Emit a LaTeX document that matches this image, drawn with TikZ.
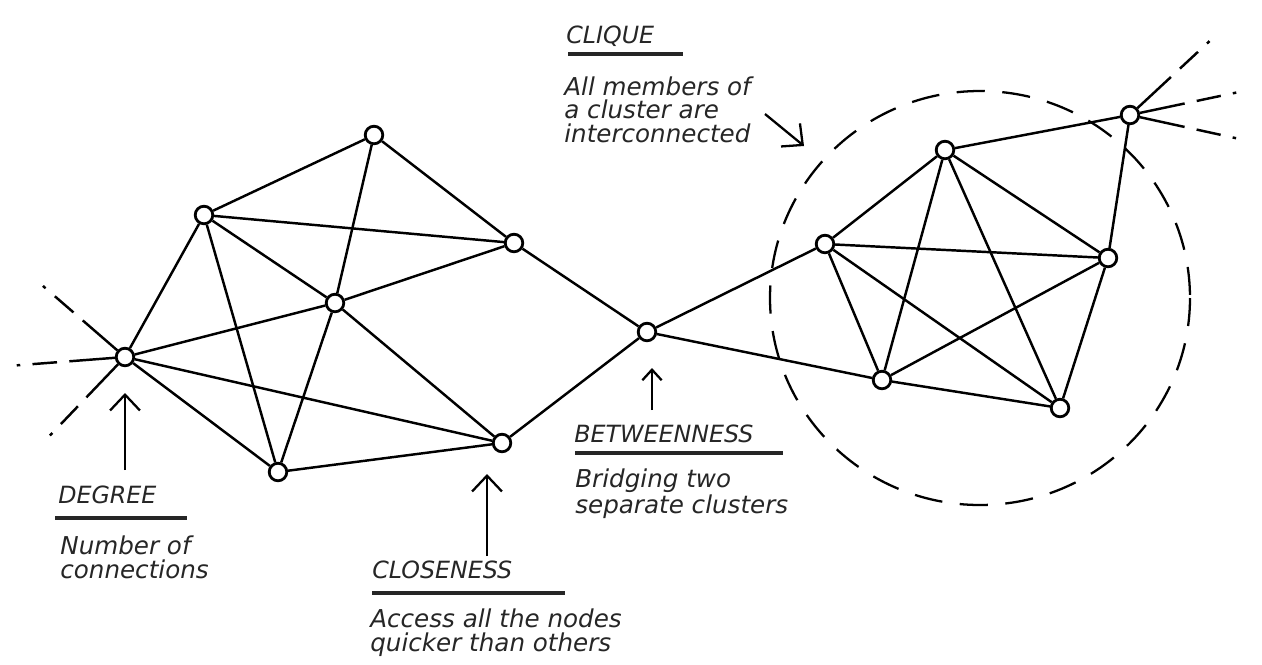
\documentclass[tikz,border=0pt]{standalone}
\usepackage{fontspec}
\setmainfont{DejaVu Sans}
\usetikzlibrary{arrows.meta}
\begin{document}
\begin{tikzpicture}[x=0.02cm,y=-0.02cm,
  vtx/.style={circle,draw,line width=1.6pt,fill=white,minimum size=10pt,inner sep=0pt},
  link/.style={line width=1.4pt},
  ray/.style={line width=1.4pt,dash pattern=on 26pt off 7pt on 14pt off 7pt on 2pt off 40pt},
  pointer/.style={line width=1.3pt,-{Straight Barb[length=9pt,width=17pt,line width=1.3pt]}},
  smallpointer/.style={line width=1.3pt,-{Straight Barb[length=6pt,width=11pt,line width=1.3pt]}},
  head/.style={anchor=base west,inner sep=0pt,text=black!85,font=\fontsize{13.5}{15}\selectfont\itshape},
  body/.style={anchor=base west,inner sep=0pt,align=left,text=black!85,font=\fontsize{14}{13.2}\selectfont\itshape},
  rulebar/.style={line width=1.8pt,black!85},
  ring/.style={line width=1.3pt,dash pattern=on 16pt off 10pt}
]
\useasboundingbox (0,0) rectangle (1262,664);

% dashed clique ring
\draw[ring] (980,298) ellipse [x radius=210, y radius=207];

% left cluster
\node[vtx] (D) at (125,357) {};
\node[vtx] (A) at (204,215) {};
\node[vtx] (T) at (374,135) {};
\node[vtx] (R) at (514,243) {};
\node[vtx] (C) at (335,303) {};
\node[vtx] (B) at (278,472) {};
\node[vtx] (E) at (502,443) {};
% bridge
\node[vtx] (M) at (647,332) {};
% clique
\node[vtx] (K1) at (825,244) {};
\node[vtx] (K2) at (945,150) {};
\node[vtx] (K3) at (1108,258) {};
\node[vtx] (K4) at (882,380) {};
\node[vtx] (K5) at (1060,408) {};
\node[vtx] (X) at (1130,115) {};

% ray ends
\coordinate (dUL) at (28,273);
\coordinate (dL) at (8,366);
\coordinate (dLL) at (38,448);
\coordinate (xU) at (1243,10);
\coordinate (xR) at (1258,88);
\coordinate (xLR) at (1258,143);

% edges
\foreach \a/\b in {D/A,D/C,D/E,D/B,A/T,A/R,A/C,A/B,T/C,T/R,C/R,C/B,C/E,B/E,R/M,E/M,
  M/K1,M/K4,K1/K2,K1/K3,K1/K4,K1/K5,K2/K3,K2/K4,K2/K5,K3/K4,K3/K5,K4/K5,K2/X,K3/X}
  \draw[link] (\a) -- (\b);

\foreach \e in {dUL,dL,dLL} \draw[ray] (D) -- (\e);
\foreach \e in {xU,xR,xLR} \draw[ray] (X) -- (\e);

% pointers
\coordinate (degtail) at (125,470);
\coordinate (degtip) at (125,393);
\coordinate (clotail) at (487,556);
\coordinate (clotip) at (487,474);
\coordinate (bettail) at (652,410);
\coordinate (bettip) at (652,368);
\coordinate (cliqtail) at (765,114);
\coordinate (cliqtip) at (804,146);
\draw[pointer] (degtail) -- (degtip);
\draw[pointer] (clotail) -- (clotip);
\draw[smallpointer] (bettail) -- (bettip);
\draw[pointer] (cliqtail) -- (cliqtip);

% labels
\node[head] (hdeg) at (58,503) {DEGREE};
\draw[rulebar] (55,518) -- (187,518);
\node[body] (tdeg) at (60,578) {Number of\\connections};

\node[head] (hclo) at (372,578) {CLOSENESS};
\draw[rulebar] (372,593) -- (565,593);
\node[body] (tclo) at (370,651) {Access all the nodes\\quicker than others};

\node[head] (hbet) at (574,442) {BETWEENNESS};
\draw[rulebar] (575,453) -- (783,453);
\node[body] (tbet) at (575,513) {Bridging two\\separate clusters};

\node[head] (hcli) at (566,43) {CLIQUE};
\draw[rulebar] (568,54) -- (683,54);
\node[body] (tcli) at (564,142) {All members of\\a cluster are\\interconnected};
\end{tikzpicture}
\end{document}
